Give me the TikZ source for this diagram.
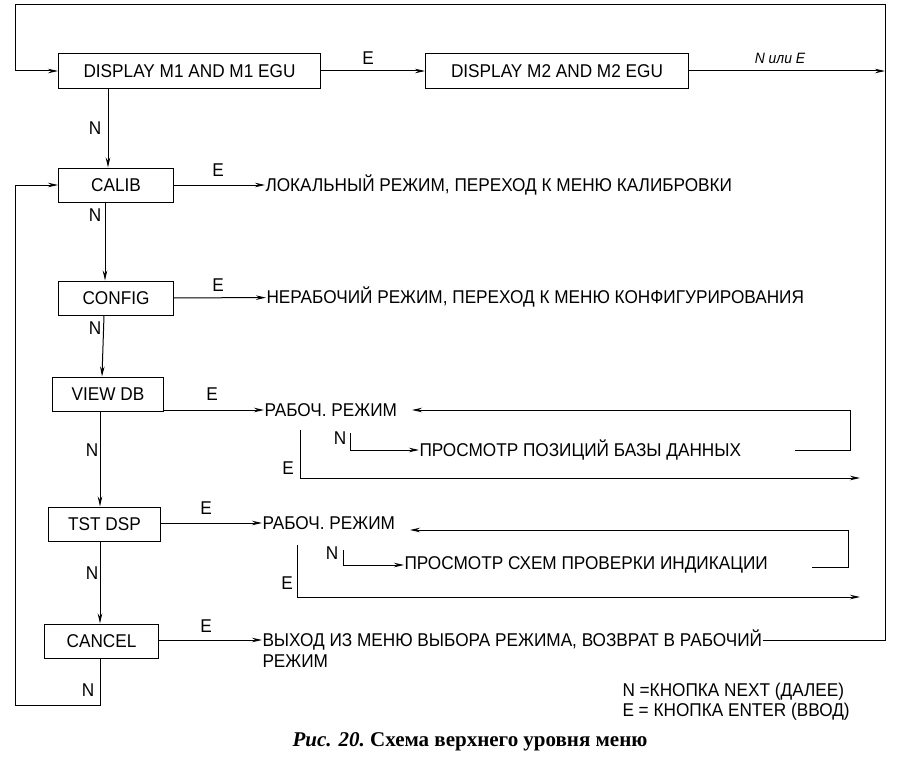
\documentclass[tikz,border=0pt]{standalone}
\usepackage{fontspec}
\setmainfont{Liberation Sans}[FakeStretch=0.93]
\newfontfamily\capfont{Liberation Serif}
\usetikzlibrary{arrows.meta}
\begin{document}
\begin{tikzpicture}[x=1pt,y=-1pt,line width=1pt,
  every node/.style={font=\fontsize{18.5}{20}\selectfont,inner sep=0pt},
  box/.style={draw,minimum height=34pt,anchor=west},
  arr/.style={-{Stealth[length=10pt,width=4.5pt]}},
  lbl/.style={anchor=west}]
\useasboundingbox (0,0) rectangle (905,760);
\node[box,minimum width=262pt] (m1) at (58,71) {DISPLAY M1 AND M1 EGU};
\node[box,minimum width=263pt] (m2) at (425,71) {DISPLAY M2 AND M2 EGU};
\node[box,minimum width=115pt] (calib) at (58,185) {CALIB};
\node[box,minimum width=115pt] (config) at (58,298) {CONFIG};
\node[box,minimum width=111pt] (view) at (52,394) {VIEW DB};
\node[box,minimum width=112pt] (tst) at (48,524) {TST DSP};
\node[box,minimum width=114pt] (cancel) at (44,641) {CANCEL};
% texts
\node[lbl] (tcal) at (265,185) {ЛОКАЛЬНЫЙ РЕЖИМ, ПЕРЕХОД К МЕНЮ КАЛИБРОВКИ};
\node[lbl] (tcfg) at (266,297) {НЕРАБОЧИЙ РЕЖИМ, ПЕРЕХОД К МЕНЮ КОНФИГУРИРОВАНИЯ};
\node[lbl] (tv) at (264,410) {РАБОЧ. РЕЖИМ};
\node[lbl] (tv2) at (419,450) {ПРОСМОТР ПОЗИЦИЙ БАЗЫ ДАННЫХ};
\node[lbl] (tt) at (262,523) {РАБОЧ. РЕЖИМ};
\node[lbl] (tt2) at (404,565) {ПРОСМОТР СХЕМ ПРОВЕРКИ ИНДИКАЦИИ};
\node[lbl] (tc) at (262,640) {ВЫХОД ИЗ МЕНЮ ВЫБОРА РЕЖИМА, ВОЗВРАТ В РАБОЧИЙ};
\node[lbl] (tc2) at (262,661) {РЕЖИМ};
\node[lbl] (l1) at (622,692) {N =КНОПКА NEXT (ДАЛЕЕ)};
\node[lbl] (l2) at (622,712) {E = КНОПКА ENTER (ВВОД)};
\node (cap) at (470,742) {\fontsize{21}{24}\selectfont\capfont\bfseries\itshape Рис. 20.\ \upshape Схема верхнего уровня меню};
% N / E labels
\foreach \x/\y/\t in {95/128/N,95/215/N,95/328/N,92/450/N,92/573/N,88/690/N,
  368/58/E,218/170/E,218/285/E,212/394/E,206/508/E,206/626/E,340/438/N,288/468/E,332/553/N,287/583/E}
  \node at (\x,\y) {\t};
\node at (780,58) {\fontsize{15}{17}\selectfont\itshape N или E};
% coordinates
\coordinate (tr) at (885,5);
\coordinate (tl) at (15,5);
\coordinate (bl) at (15,705);
% main flow
\draw[arr] (m1) -- (m2);
\draw[arr] (m2.east) -- (885,71);
\draw[arr] (m1.south -| 108,0) -- (calib.north -| 108,0);
\draw[arr] (calib.south -| 105,0) -- (config.north -| 105,0);
\draw[arr] (config.south -| 104,0) -- (view.north -| 102,0);
\draw[arr] (view.south -| 100,0) -- (tst.north -| 100,0);
\draw[arr] (tst.south -| 100,0) -- (cancel.north -| 100,0);
\draw[arr] (cancel.south -| 100,0) |- (bl) |- (calib.west);
\draw[arr] (tc.east) -- (885,640) -- (tr) -- (tl) |- (m1.west);
\draw[arr] (calib) -- (tcal);
\draw[arr] (config) -- (tcfg);
\draw[arr] (view.east |- tv) -- (tv.west);
\draw[arr] (tst.east |- tt) -- (tt.west);
\draw[arr] (cancel.east |- tc) -- (tc.west);
% view db loop
\draw[arr] (795,450) -- (850,450) -- (850,410) -- (412,410);
\draw[arr] (350,433) |- (tv2.west);
\draw[arr] (300,430) |- (860,478);
% tst loop
\draw[arr] (812,567) -- (848,567) -- (848,530) -- (410,530);
\draw[arr] (343,550) |- (tt2.west);
\draw[arr] (297,545) |- (860,597);
\end{tikzpicture}
\end{document}
